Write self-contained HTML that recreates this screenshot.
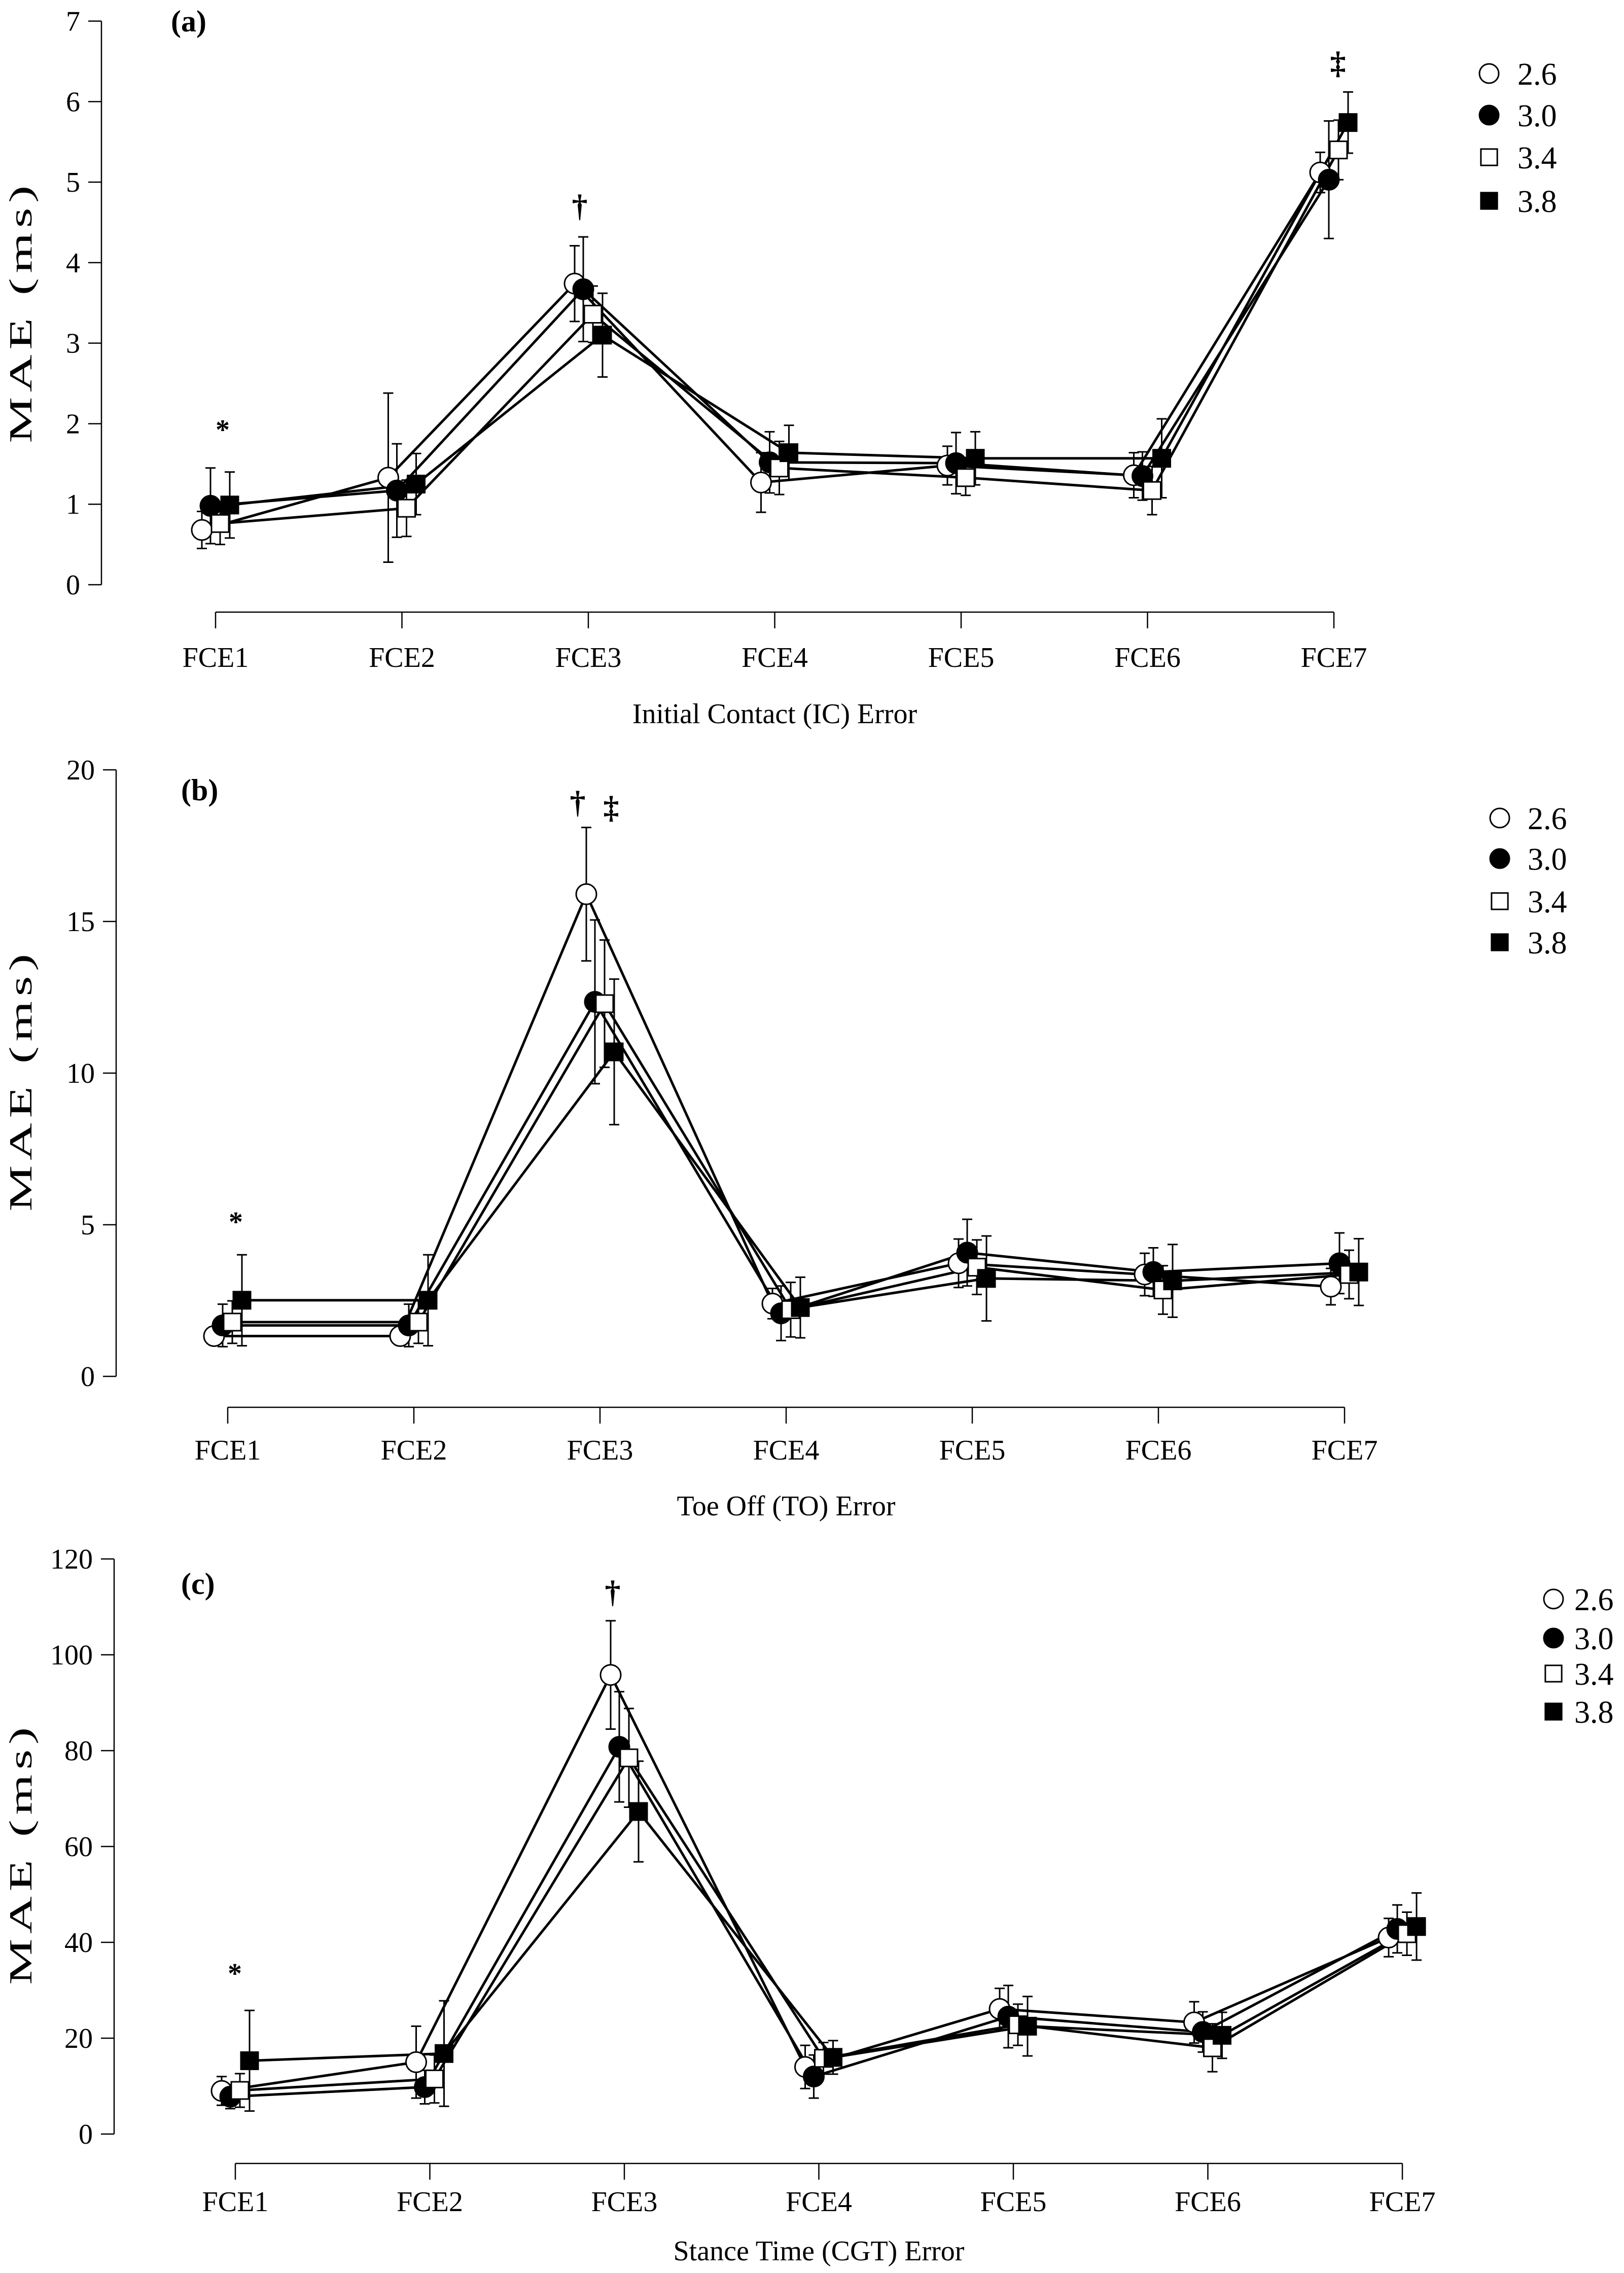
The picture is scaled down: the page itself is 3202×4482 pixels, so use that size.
<!DOCTYPE html>
<html><head><meta charset="utf-8">
<style>
html,body{margin:0;padding:0;background:#fff;}
svg{display:block;}
text{font-family:"Liberation Serif",serif;fill:#000;}
</style></head>
<body>
<svg id="chart" width="3202" height="4482" viewBox="0 0 3202 4482" xmlns="http://www.w3.org/2000/svg"></svg>
<script>
const categories = ["FCE1","FCE2","FCE3","FCE4","FCE5","FCE6","FCE7"];
const seriesNames = ["2.6","3.0","3.4","3.8"];

const icMean26 = [0.68,1.33,3.74,1.27,1.48,1.36,5.12];
const icMean30 = [0.98,1.17,3.67,1.52,1.51,1.35,5.03];
const icMean34 = [0.76,0.95,3.36,1.45,1.33,1.17,5.40];
const icMean38 = [0.99,1.25,3.10,1.64,1.57,1.57,5.74];
const icErr26 = [0.23,1.05,0.47,0.37,0.24,0.28,0.25];
const icErr30 = [0.47,0.58,0.65,0.38,0.38,0.30,0.73];
const icErr34 = [0.26,0.35,0.35,0.33,0.22,0.30,0.37];
const icErr38 = [0.41,0.38,0.52,0.34,0.33,0.49,0.38];
const icTicks = [0,1,2,3,4,5,6,7];

const toMean26 = [1.33,1.33,15.9,2.4,3.73,3.36,2.96];
const toMean30 = [1.68,1.68,12.35,2.08,4.08,3.44,3.73];
const toMean34 = [1.79,1.79,12.29,2.2,3.6,2.85,3.36];
const toMean38 = [2.51,2.51,10.7,2.27,3.23,3.15,3.44];
const toErr26 = [0.3,0.3,2.2,0.5,0.8,0.7,0.6];
const toErr30 = [0.7,0.7,2.7,0.9,1.1,0.8,1.0];
const toErr34 = [0.7,0.7,2.1,0.9,0.9,0.8,0.8];
const toErr38 = [1.5,1.5,2.4,1.0,1.4,1.2,1.1];
const toTicks = [0,5,10,15,20];

const stMean26 = [9.0,15,95.8,14,26.1,23.3,41];
const stMean30 = [7.8,9.8,80.8,12,24.5,21.3,42.8];
const stMean34 = [9.1,11.5,78.5,15.8,22.8,18,41.8];
const stMean38 = [15.3,16.8,67.3,16,22.5,20.6,43.3];
const stErr26 = [3,7.5,11.3,4.5,4.3,4.3,4];
const stErr30 = [2.5,3.5,11.5,4.5,6.5,4.2,5];
const stErr34 = [3.5,5,10.3,3.3,4.3,5,4.5];
const stErr38 = [10.5,11,10.5,3.5,6.2,4.8,7];
const stTicks = [0,20,40,60,80,100,120];

const NS = "http://www.w3.org/2000/svg";
const svg = document.getElementById("chart");
function mk(tag, attrs, parent){
  const e = document.createElementNS(NS, tag);
  for (const k in attrs) e.setAttribute(k, attrs[k]);
  (parent||svg).appendChild(e);
  return e;
}
const offsets = [-27,-10,9,28];

function panel(cfg){
  const g = mk("g", {});
  
  
  const ymax = cfg.ticks[cfg.ticks.length-1];
  const yScale = v => cfg.y0 + (cfg.yTop - cfg.y0) * v / ymax;
  const xScale = i => cfg.x1 + cfg.xStep * i;

  const ya = mk("line", {x1:cfg.ax, x2:cfg.ax, y1:yScale(ymax), y2:yScale(0), stroke:"#000","stroke-width":2.5}, g);
  
  
  cfg.ticks.forEach(t => {
    const y = yScale(t);
    const tk = mk("line", {x1:cfg.ax-26, x2:cfg.ax, y1:y, y2:y, stroke:"#000","stroke-width":2.5}, g);
    
    
    const tl = mk("text", {x:cfg.ax-42, y:y+19, "font-size":56, "text-anchor":"end"}, g);
    tl.textContent = t;
    
    
  });
  const yt = mk("text", {x:0, y:0, "font-size":64, "text-anchor":"middle", "letter-spacing":"6", transform:`translate(${cfg.ylabX},${cfg.ylabY}) rotate(-90) scale(1.6,1)`}, g);
  yt.textContent = "MAE (ms)";
  
  

  const xa = mk("line", {x1:xScale(0), x2:xScale(6), y1:cfg.xAxisY, y2:cfg.xAxisY, stroke:"#000","stroke-width":2.5}, g);
  
  
  categories.forEach((c,i) => {
    const x = xScale(i);
    const tk = mk("line", {x1:x, x2:x, y1:cfg.xAxisY, y2:cfg.xAxisY+32, stroke:"#000","stroke-width":2.5}, g);
    
    
    const tl = mk("text", {x:x, y:cfg.xLabY+20, "font-size":56, "text-anchor":"middle"}, g);
    tl.textContent = c;
    
    
  });
  const xt = mk("text", {x:(xScale(0)+xScale(6))/2, y:cfg.xTitleY+20, "font-size":56, "text-anchor":"middle"}, g);
  xt.textContent = cfg.xTitle;
  
  

  const pl = mk("text", {x:cfg.labX, y:cfg.labY+20, "font-size":60, "font-weight":"bold"}, g);
  pl.textContent = cfg.label;
  
  

  cfg.means.forEach((m,s) => {
    const pts = m.map((v,i) => `${xScale(i)+offsets[s]},${yScale(v)}`).join(" ");
    const pline = mk("polyline", {points:pts, fill:"none", stroke:"#000", "stroke-width":5, "stroke-linejoin":"round"}, g);
    
    
  });
  cfg.means.forEach((m,s) => {
    m.forEach((v,i) => {
      const x = xScale(i)+offsets[s];
      const e = cfg.errs[s][i];
      const eb = mk("path", {d:`M${x},${yScale(v+e)}V${yScale(Math.max(0,v-e))}M${x-10},${yScale(v+e)}h20M${x-10},${yScale(Math.max(0,v-e))}h20`, stroke:"#000","stroke-width":3, fill:"none"}, g);
      
      
    });
  });
  function marker(s, x, y, parent, sc){
    let el;
    if (s < 2) el = mk("circle", {cx:x, cy:y, r:20*sc, fill:s===0?"#fff":"#000", stroke:"#000","stroke-width":3}, parent);
    else el = mk("rect", {x:x-17*sc, y:y-17*sc, width:34*sc, height:34*sc, fill:s===2?"#fff":"#000", stroke:"#000","stroke-width":3}, parent);
    return el;
  }
  cfg.means.forEach((m,s) => {
    m.forEach((v,i) => {
      const mkEl = marker(s, xScale(i)+offsets[s], yScale(v), g, 1);
      
      
    });
  });
  cfg.annots.forEach(a => {
    const t = mk("text", {x:a[1], y:a[2]+20, "font-size":a[3], "font-weight":"bold", "text-anchor":"middle"}, g);
    t.textContent = a[0];
    
    
  });
  seriesNames.forEach((n,s) => {
    const y = cfg.legY[s];
    const lm = marker(s, cfg.legMX, y, g, 0.95);
    
    
    const lt = mk("text", {x:cfg.legTX, y:y+22, "font-size":62}, g);
    lt.textContent = n;
    
    
  });
}

panel({name:"panel-a", label:"(a)", labX:337, labY:42, ax:200, yTop:41.6, y0:1153, ticks:icTicks,
  x1:425, xStep:367.5, xAxisY:1207, xLabY:1295, xTitleY:1406, xTitle:"Initial Contact (IC) Error",
  ylabX:62, ylabY:615,
  means:[icMean26,icMean30,icMean34,icMean38], errs:[icErr26,icErr30,icErr34,icErr38],
  annots:[["*",439,846,56],["†",1143,407,62],["‡",2638,125,62]],
  legMX:2936, legTX:2992, legY:[145,227,310,396]});

panel({name:"panel-b", label:"(b)", labX:357, labY:1558, ax:229, yTop:1518, y0:2714, ticks:toTicks,
  x1:449, xStep:367, xAxisY:2775, xLabY:2858, xTitleY:2968, xTitle:"Toe Off (TO) Error",
  ylabX:62, ylabY:2130,
  means:[toMean26,toMean30,toMean34,toMean38], errs:[toErr26,toErr30,toErr34,toErr38],
  annots:[["*",465,2408,56],["†",1139,1583,62],["‡",1205,1593,62]],
  legMX:2957, legTX:3012, legY:[1613,1693,1777,1858]});

panel({name:"panel-c", label:"(c)", labX:357, labY:3123, ax:225, yTop:3074, y0:4208, ticks:stTicks,
  x1:464, xStep:383.5, xAxisY:4266, xLabY:4340, xTitleY:4437, xTitle:"Stance Time (CGT) Error",
  ylabX:62, ylabY:3655,
  means:[stMean26,stMean30,stMean34,stMean38], errs:[stErr26,stErr30,stErr34,stErr38],
  annots:[["*",463,3890,56],["†",1208,3140,62]],
  legMX:3063, legTX:3104, legY:[3153,3230,3300,3375]});
</script>
</body></html>
